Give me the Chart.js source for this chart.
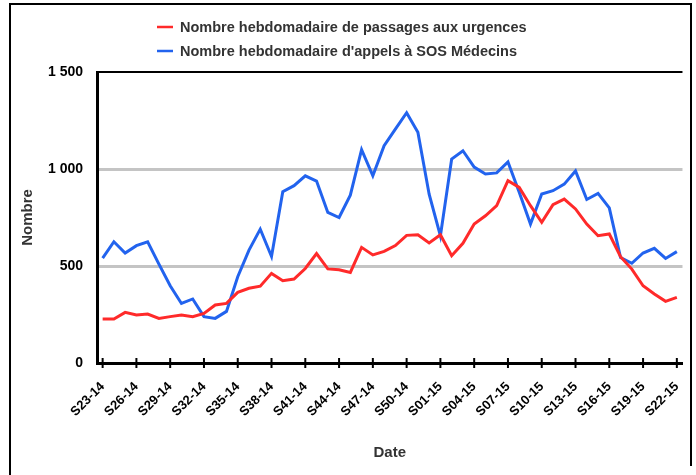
<!DOCTYPE html>
<html>
<head>
<meta charset="utf-8">
<script src="https://cdn.jsdelivr.net/npm/chart.js@4"></script>
<style>
  body { margin: 0; background: #fff; overflow: hidden; }
  #wrap { position: relative; width: 696px; height: 475px; }
  #myChart { position: absolute; left: 0; top: 0; }
  .cadre { position: absolute; background: #000; }
</style>
</head>
<body>
<div id="wrap">
  <canvas id="myChart" width="696" height="475"></canvas>
  <!-- cadre noir autour du graphique -->
  <div class="cadre" style="left:9px; top:3px; width:683px; height:2px;"></div>
  <div class="cadre" style="left:9px; top:3px; width:2px; height:480px;"></div>
  <div class="cadre" style="left:690px; top:3px; width:2px; height:463px;"></div>
</div>
<script>
//Donnees
const semaines = [
  'S23-14','S24-14','S25-14','S26-14','S27-14','S28-14','S29-14','S30-14','S31-14','S32-14',
  'S33-14','S34-14','S35-14','S36-14','S37-14','S38-14','S39-14','S40-14','S41-14','S42-14',
  'S43-14','S44-14','S45-14','S46-14','S47-14','S48-14','S49-14','S50-14','S51-14','S52-14',
  'S01-15','S02-15','S03-15','S04-15','S05-15','S06-15','S07-15','S08-15','S09-15','S10-15',
  'S11-15','S12-15','S13-15','S14-15','S15-15','S16-15','S17-15','S18-15','S19-15','S20-15',
  'S21-15','S22-15'
];

// passages aux urgences
const urgences = [
  227, 227, 261, 247, 252, 230, 239, 247, 239, 256,
  299, 307, 364, 385, 396, 462, 424, 433, 487, 564,
  485, 481, 467, 596, 557, 575, 605, 658, 661, 619,
  661, 553, 617, 716, 759, 811, 940, 905, 811, 725,
  816, 845, 794, 716, 656, 665, 548, 484, 398, 356,
  318, 338
];

// appels SOS Medecins
const sosMedecins = [
  541, 625, 567, 605, 625, 510, 398, 307, 330, 239,
  230, 266, 445, 582, 690, 549, 883, 914, 965, 938,
  776, 750, 865, 1100, 965, 1120, 1206, 1290, 1189, 870,
  655, 1051, 1094, 1010, 974, 980, 1036, 880, 716, 871,
  888, 922, 990, 843, 874, 800, 544, 514, 567, 591,
  539, 574
];

const yTicks = [0, 500, 1000, 1500];

const rouge = '#ff2a2a';
const bleu = '#2263ee';
const police = 'Liberation Sans, Arial, Helvetica, sans-serif';

//Legende dessinee a la main (lignes empilees)
const legendePlugin = {
  id: 'legendePerso',
  afterDraw(chart) {
    const ctx = chart.ctx;
    ctx.save();
    chart.data.datasets.forEach((ds, i) => {
      const y = 27 + i * 24;
      ctx.strokeStyle = ds.borderColor;
      ctx.lineWidth = 2.5;
      ctx.beginPath();
      ctx.moveTo(157, y);
      ctx.lineTo(173, y);
      ctx.stroke();
      ctx.fillStyle = '#333';
      ctx.font = 'bold 14.5px ' + police;
      ctx.textBaseline = 'middle';
      ctx.textAlign = 'left';
      ctx.fillText(ds.label, 180, y + 1);
    });
    ctx.restore();
  }
};

//Petits traits sur l'axe des dates
const traitsPlugin = {
  id: 'traitsX',
  afterDraw(chart) {
    const ctx = chart.ctx;
    const x = chart.scales.x;
    const bas = chart.chartArea.bottom;
    ctx.save();
    ctx.strokeStyle = '#000';
    ctx.lineWidth = 2;
    semaines.forEach((s, i) => {
      if (i % 3 !== 0) return;
      const px = x.getPixelForValue(i);
      ctx.beginPath();
      ctx.moveTo(px, bas - 5);
      ctx.lineTo(px, bas + 5);
      ctx.stroke();
    });
    ctx.restore();
  }
};

const cdx = document.getElementById('myChart');
new Chart(cdx, {
  type: 'line',
  data: {
    labels: semaines,
    datasets: [
      {
        label: 'Nombre hebdomadaire de passages aux urgences',
        data: urgences,
        borderColor: rouge,
        backgroundColor: rouge,
        borderWidth: 3,
        pointRadius: 0,
        tension: 0
      },
      {
        label: "Nombre hebdomadaire d'appels à SOS Médecins",
        data: sosMedecins,
        borderColor: bleu,
        backgroundColor: bleu,
        borderWidth: 3,
        pointRadius: 0,
        tension: 0
      }
    ]
  },
  options: {
    responsive: false,
    animation: false,
    layout: { padding: { top: 72, left: 0, right: 13, bottom: 0 } },
    plugins: {
      legend: { display: false },
      tooltip: { enabled: false }
    },
    scales: {
      x: {
        type: 'category',
        offset: true,
        afterFit: (s) => { s.height = 112; },
        grid: { display: false },
        border: { display: true, color: '#000', width: 3 },
        ticks: {
          autoSkip: false,
          maxRotation: 45,
          minRotation: 45,
          padding: 8,
          color: '#000',
          font: { family: police, size: 13, weight: 'bold' },
          callback: function (v, i) { return i % 3 === 0 ? semaines[i] : ''; }
        },
        title: {
          display: true,
          text: 'Date',
          color: '#333',
          font: { family: police, size: 15, weight: 'bold' },
          padding: { top: 0, bottom: 13 }
        }
      },
      y: {
        min: 0,
        max: 1500,
        afterFit: (s) => { s.width = 97; },
        afterBuildTicks: (s) => { s.ticks = yTicks.map(v => ({ value: v })); },
        grid: {
          drawTicks: false,
          color: (c) => c.tick.value === 1500 ? '#000' : (c.tick.value === 0 ? 'rgba(0,0,0,0)' : '#c4c4c4'),
          lineWidth: (c) => c.tick.value === 1500 ? 2 : 3
        },
        border: { display: true, color: '#000', width: 3 },
        ticks: {
          padding: 14,
          color: '#000',
          font: { family: police, size: 14, weight: 'bold' },
          callback: function (v) {
            if (v >= 1000) return Math.floor(v / 1000) + ' ' + String(v % 1000).padStart(3, '0');
            return String(v);
          }
        },
        title: {
          display: true,
          text: 'Nombre',
          color: '#333',
          font: { family: police, size: 15, weight: 'bold' },
          padding: { top: 19, bottom: 0 }
        }
      }
    }
  },
  plugins: [legendePlugin, traitsPlugin]
});
</script>
</body>
</html>
